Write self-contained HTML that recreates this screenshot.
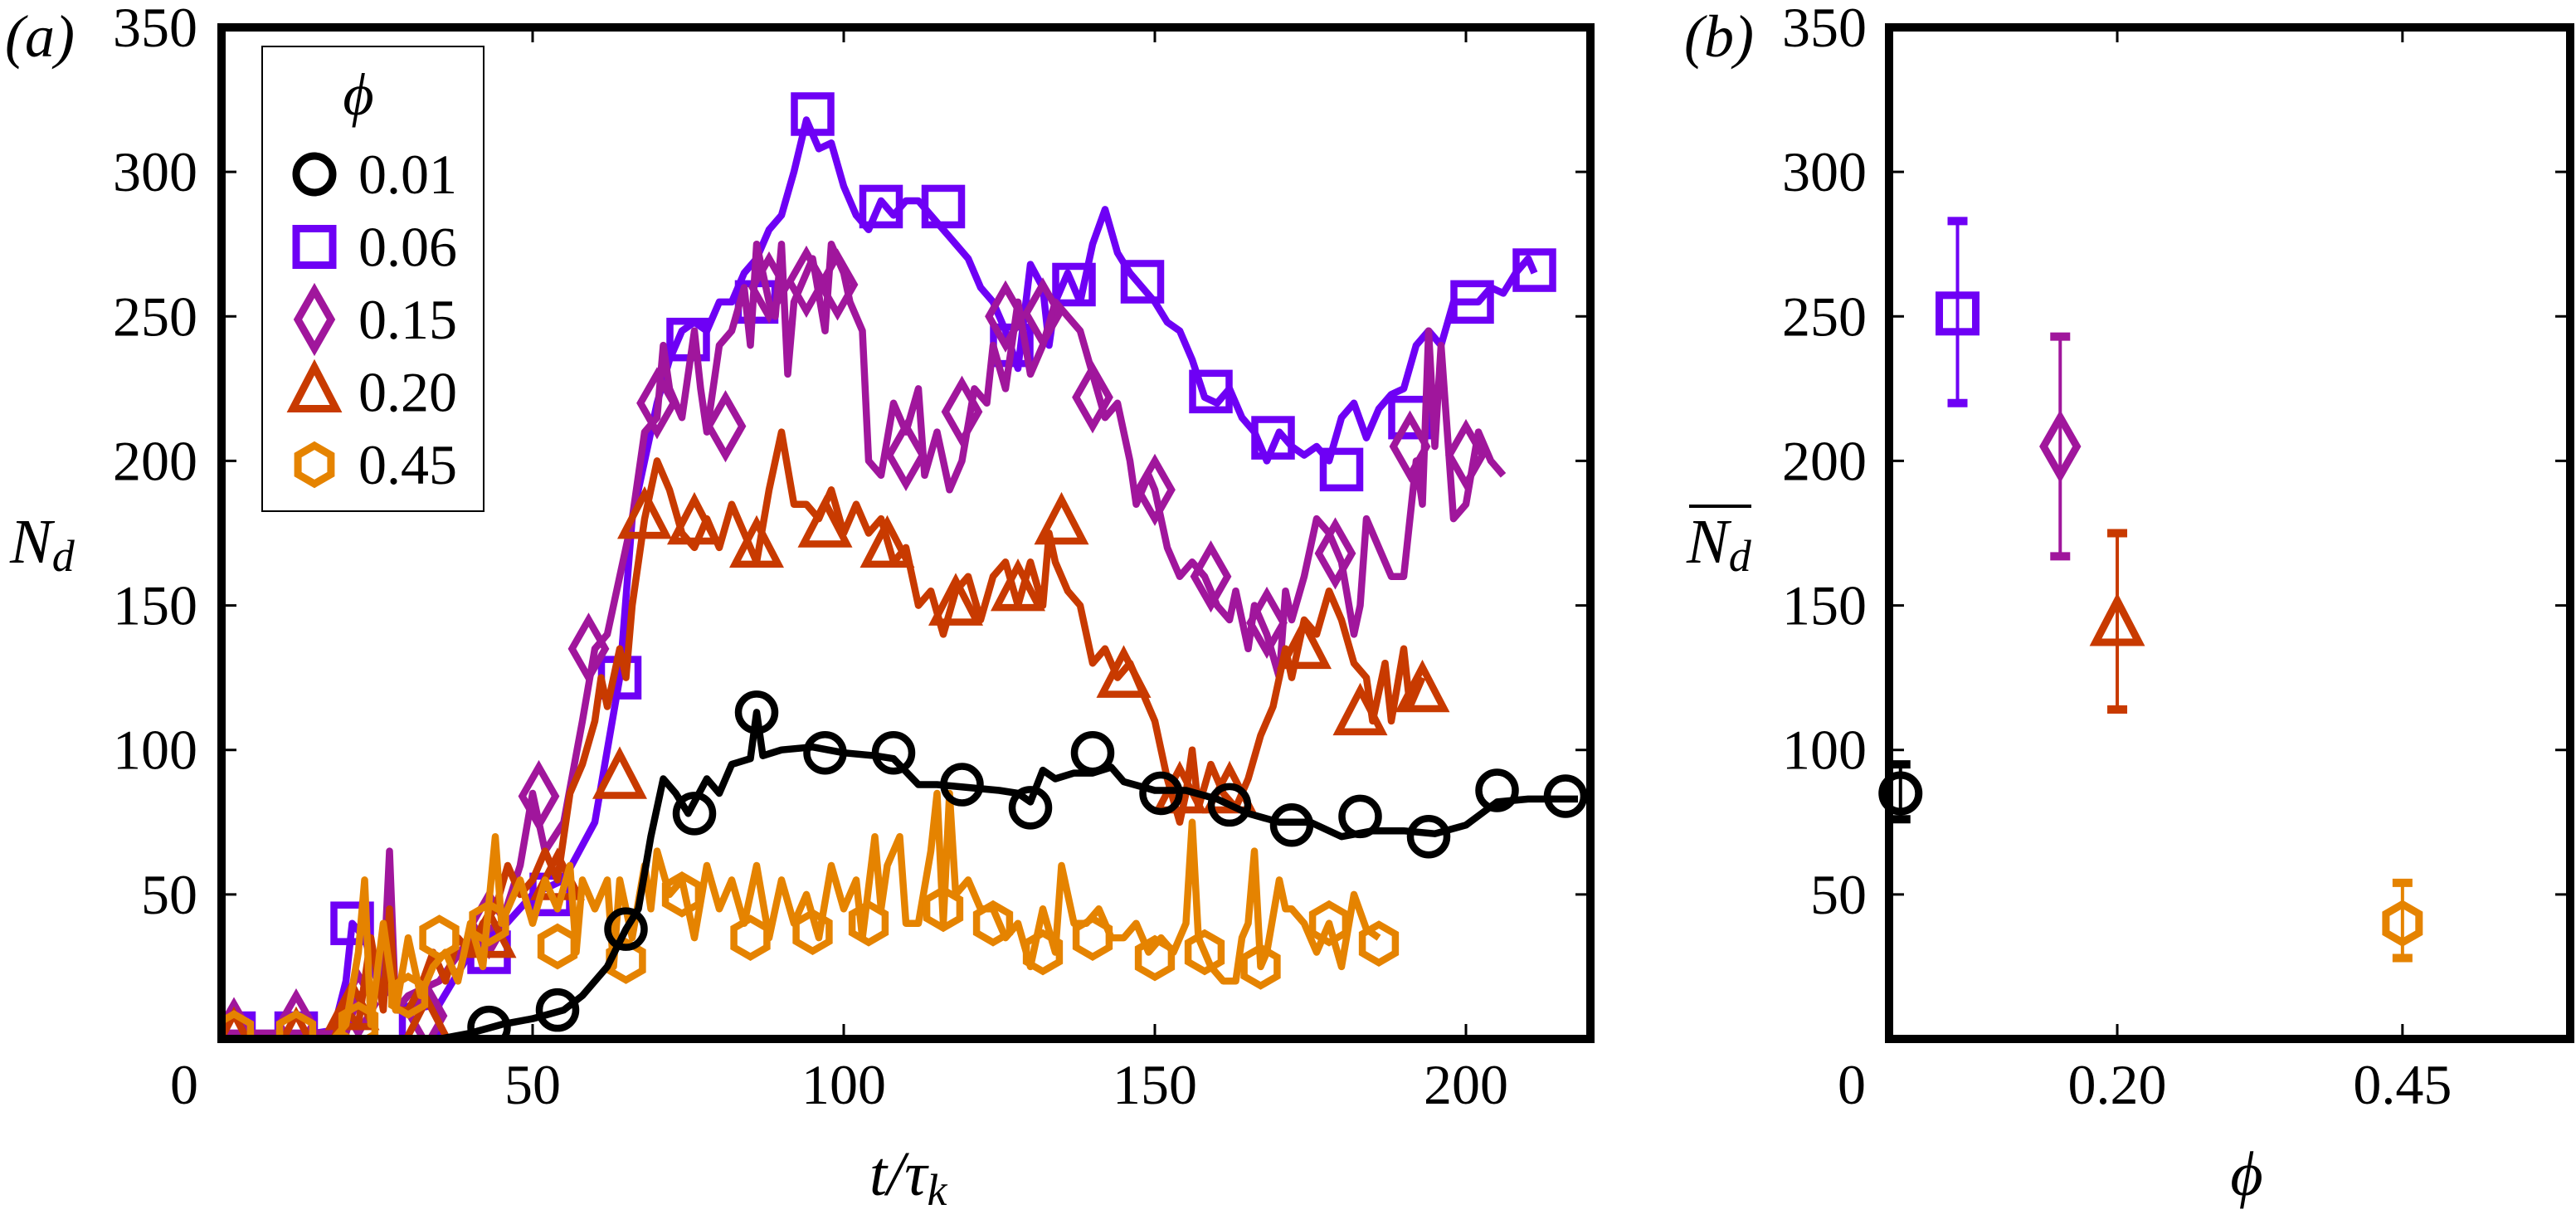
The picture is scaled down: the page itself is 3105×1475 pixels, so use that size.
<!DOCTYPE html>
<html><head><meta charset="utf-8">
<style>
html,body{margin:0;padding:0;background:#fff;}
svg{display:block;}
svg text{font-family:"Liberation Serif","DejaVu Serif","Noto Serif CJK SC",serif;fill:#000;}
</style></head>
<body>
<svg id="fig" width="3105" height="1475" viewBox="0 0 3105 1475" xmlns="http://www.w3.org/2000/svg">
<g id="panelA"></g>
<g id="panelB"></g>
</svg>
<script>
// ---------------- Panel (a) data ----------------
const seriesNames = ["0.01","0.06","0.15","0.20","0.45"];
const seriesColors = ["#000000","#6e00f5","#a0169c","#c83a00","#e58300"];
const seriesShapes = ["circle","square","diamond","triangle","hexagon"];

const t001 = [0,10,20,30,35,40,45,50,55,58,62,65,67,69,71,73,75,78,80,82,85,86,87,90,95,100,105,108,112,115,120,125,128,130,132,134,137,140,143,145,150,155,160,165,170,175,180,185,190,195,200,205,210,215,218];
const n001 = [0,0,0,0,0,2,5,7,10,15,25,38,45,70,90,85,78,90,85,95,97,113,98,100,101,99,98,97,88,88,87,86,85,82,93,90,92,92,94,89,86,86,83,78,75,75,70,72,72,71,74,82,83,83,83];
const mt001 = [43,54,65,76,86,97,108,119,130,140,151,162,172,183,194,205,216];
const mn001 = [4,10,38,78,113,99,99,88,80,99,85,81,74,77,70,86,84];

const t006 = [0,5,10,15,18,20,21,23,25,30,35,40,45,50,55,60,62,64,66,68,70,72,74,76,78,80,82,84,86,88,90,92,94,96,98,100,102,104,106,108,110,112,114,116,118,120,122,124,126,128,130,132,133,134,136,138,140,142,144,146,148,150,152,154,156,158,160,162,164,166,168,170,172,174,176,178,180,182,184,186,188,190,192,194,196,198,200,202,204,206,208,210,211];
const n006 = [2,2,2,2,3,20,40,35,20,10,12,30,38,50,55,75,100,125,180,200,220,235,245,248,245,255,255,265,270,280,285,300,318,308,310,295,285,280,290,285,290,290,285,280,275,270,260,255,245,232,268,260,240,255,265,255,275,287,272,265,260,255,248,245,235,222,220,225,215,210,200,210,205,202,205,200,215,220,208,218,223,225,240,245,240,255,255,255,260,258,265,270,265];
const mt006 = [2,12,21,32,43,53,64,75,86,95,106,116,127,137,148,159,169,180,191,201,211];
const mn006 = [2,2,40,5,30,50,125,242,255,320,288,288,240,261,262,224,208,197,215,255,266];

const t015 = [0,10,20,22,26,27,28,30,35,40,45,48,50,52,55,58,60,62,64,66,68,70,71,72,74,76,77,78,80,82,84,85,86,88,89,90,91,92,93,95,97,98,100,101,102,103,104,106,108,110,112,113,115,117,119,121,123,124,126,128,130,132,134,136,138,140,142,144,146,147,149,150,152,154,156,158,160,162,163,165,166,168,170,171,172,174,176,178,180,182,183,184,186,188,190,192,193,194,195,196,198,200,202,204,206];
const n015 = [2,2,2,15,20,65,10,15,20,35,40,60,85,65,75,110,135,140,160,180,210,215,240,225,215,245,225,210,240,245,260,240,275,255,250,275,230,255,260,270,245,275,265,255,250,245,200,195,220,210,225,195,210,190,200,225,220,240,225,255,230,240,255,250,245,230,215,220,200,185,195,190,170,160,165,160,150,145,155,135,150,140,125,155,145,160,180,175,165,140,150,180,170,160,160,200,185,245,205,240,180,185,210,200,195];
const mt015 = [2,12,22,33,43,51,59,70,81,88,94,99,110,119,126,132,140,150,159,168,179,191,200];
const mn015 = [2,5,12,8,40,84,135,220,212,260,262,261,202,217,250,251,222,190,160,144,168,205,202];

const t020 = [0,10,18,20,22,24,26,27,28,30,32,34,36,38,40,42,44,46,48,50,52,54,56,58,60,61,62,64,65,66,68,70,72,74,76,78,80,82,84,86,88,90,92,94,96,98,100,102,104,106,108,110,112,114,116,118,120,122,124,126,128,130,132,133,134,136,138,140,142,144,146,148,150,152,154,155,156,157,159,161,163,165,167,169,171,172,174,176,178,180,182,184,185,187,188,190,191,193];
const n020 = [0,0,0,10,5,35,10,45,10,10,18,30,20,35,30,40,45,60,50,55,65,55,85,95,110,125,115,135,125,150,180,200,190,175,170,180,170,185,175,165,190,210,185,185,180,190,175,185,175,180,165,170,150,155,140,155,160,145,160,165,150,165,150,175,165,155,150,130,135,125,130,120,110,90,75,85,100,80,95,85,80,90,105,115,135,125,145,140,155,145,130,125,110,130,110,135,115,125];
const mt020 = [2,12,21,33,43,54,64,68,76,86,97,107,118,128,135,145,154,162,174,183,193];
const mn020 = [0,0,10,5,35,55,90,180,178,170,177,170,150,155,178,125,85,85,135,112,120];

const t045 = [0,10,18,20,22,23,24,26,28,30,32,34,36,38,40,42,44,45,47,48,50,52,54,56,57,58,60,62,63,64,66,68,69,70,72,74,76,78,80,82,84,86,88,90,92,94,96,98,100,102,103,105,106,107,109,110,112,114,115,116,117,118,120,122,124,126,128,130,132,134,135,137,139,141,143,145,147,149,151,153,155,156,157,159,161,163,164,165,166,167,168,170,171,172,174,176,178,180,182,184,186];
const n045 = [0,0,0,5,30,55,5,40,10,35,15,25,30,20,40,25,70,40,50,55,40,55,45,60,30,55,45,55,25,55,35,60,45,65,50,55,35,60,45,55,40,60,35,55,40,50,35,60,45,55,35,70,45,60,70,40,40,65,85,40,85,50,55,45,45,35,40,25,45,30,60,40,40,45,35,35,40,30,35,30,40,75,35,25,20,20,35,40,65,25,30,55,45,45,40,30,40,25,50,38,35];
const mt045 = [2,12,22,30,35,43,54,65,74,85,95,104,116,124,132,140,150,158,167,178,186];
const mn045 = [2,2,5,15,35,40,32,27,50,35,37,40,45,40,30,35,28,30,25,40,33];

const xTicksA = [50,100,150,200];
const xTickLabelsA = ["0","50","100","150","200"];
const yTicks = [50,100,150,200,250,300];
const yTickLabels = ["50","100","150","200","250","300","350"];

// ---------------- Panel (b) data ----------------
const phiVals = [0.01,0.06,0.15,0.20,0.45];
const meanN = [85,251,205,143,40];
const errLo = [76,220,167,114,28];
const errHi = [95,283,243,175,54];
const xTicksB = [0.20,0.45];
const xTickLabelsB = ["0","0.20","0.45"];

// ---------------- Drawing ----------------
const NS = "http://www.w3.org/2000/svg";
function mk(tag, attrs, parent){
  const e = document.createElementNS(NS, tag);
  for (const k in attrs) e.setAttribute(k, attrs[k]);
  parent.appendChild(e);
  return e;
}
const Y0 = 1252, Y350 = 33;
function yS(v){ return Y0 - (v/350)*(Y0-Y350); }
const AX0 = 267, AX1 = 1917;
function xA(t){ return AX0 + t*(AX1-AX0)/220; }
const BX0 = 2277, BX1 = 3098;
function xB(p){ return BX0 + p*(BX1-BX0)/0.597; }

function marker(parent, shape, cx, cy, color, sw){
  let e;
  if (shape==="circle") e = mk("circle",{cx:cx,cy:cy,r:22,fill:"none",stroke:color,"stroke-width":sw},parent);
  else if (shape==="square") e = mk("rect",{x:cx-22,y:cy-22,width:44,height:44,fill:"none",stroke:color,"stroke-width":sw},parent);
  else if (shape==="diamond") e = mk("polygon",{points:`${cx},${cy-35} ${cx+20},${cy} ${cx},${cy+35} ${cx-20},${cy}`,fill:"none",stroke:color,"stroke-width":sw},parent);
  else if (shape==="triangle") e = mk("polygon",{points:`${cx},${cy-30} ${cx+26},${cy+20} ${cx-26},${cy+20}`,fill:"none",stroke:color,"stroke-width":sw},parent);
  else {
    let p=[]; for(let i=0;i<6;i++){const a=Math.PI/3*i-Math.PI/2; p.push((cx+23*Math.cos(a)).toFixed(1)+","+(cy+23*Math.sin(a)).toFixed(1));}
    e = mk("polygon",{points:p.join(" "),fill:"none",stroke:color,"stroke-width":sw},parent);
  }
  return e;
}

const A = document.getElementById("panelA");
const B = document.getElementById("panelB");

const allT = [t001,t006,t015,t020,t045];
const allN = [n001,n006,n015,n020,n045];
const allMT = [mt001,mt006,mt015,mt020,mt045];
const allMN = [mn001,mn006,mn015,mn020,mn045];
const clipA = mk("clipPath",{id:"clipA"},A);
mk("rect",{x:AX0,y:Y350,width:AX1-AX0,height:Y0-Y350},clipA);
const plotA = mk("g",{"clip-path":"url(#clipA)"},A);


[1,2,3,4,0].forEach(i=>{
  const g = mk("g",{},plotA);
  
  
  const pts = allT[i].map((t,j)=>xA(t).toFixed(1)+","+yS(allN[i][j]).toFixed(1)).join(" ");
  const pl = mk("polyline",{points:pts,fill:"none",stroke:seriesColors[i],"stroke-width":8.5,"stroke-linejoin":"round"},g);
  
  
  allMT[i].forEach((t,j)=>{
    const m = marker(g, seriesShapes[i], xA(t), yS(allMN[i][j]), seriesColors[i], 8.5);
    
    
  });
});

const frameA = mk("rect",{x:AX0,y:Y350,width:AX1-AX0,height:Y0-Y350,fill:"none",stroke:"#000","stroke-width":10},A);


xTicksA.forEach(v=>{
  const x=xA(v);
  const t1 = mk("line",{x1:x,y1:Y0,x2:x,y2:Y0-18,stroke:"#000","stroke-width":3},A);
  
  
  const t2 = mk("line",{x1:x,y1:Y350,x2:x,y2:Y350+18,stroke:"#000","stroke-width":3},A);
  
  
});
xTickLabelsA.forEach((s,i)=>{
  const v = i*50;
  const x = i===0 ? 222 : xA(v);
  const tx = mk("text",{x:x,y:1330,"font-size":68,"text-anchor":"middle"},A);
  tx.textContent = s;
  
  
});
function yAxisTicks(P, x0, x1, lbl){
  yTicks.forEach(v=>{
    const y=yS(v);
    const a = mk("line",{x1:x0,y1:y,x2:x0+18,y2:y,stroke:"#000","stroke-width":3},P);
    
    
    const b = mk("line",{x1:x1,y1:y,x2:x1-18,y2:y,stroke:"#000","stroke-width":3},P);
    
    
  });
  yTickLabels.forEach((s,i)=>{
    const v=(i+1)*50;
    const tx = mk("text",{x:lbl,y:yS(v)+23,"font-size":68,"text-anchor":"end"},P);
    tx.textContent = s;
    
    
  });
}
yAxisTicks(A, AX0, AX1, 238);

const la = mk("text",{x:6,y:68,"font-size":72,"font-style":"italic"},A);
la.textContent="(a)";


const ylA = mk("text",{x:12,y:678,"font-size":76,"font-style":"italic"},A);


ylA.innerHTML = 'N<tspan font-size="54" dy="10">d</tspan>';
const xlA = mk("text",{x:1048,y:1440,"font-size":76,"font-style":"italic"},A);


xlA.innerHTML = 't/τ<tspan font-size="54" dy="12">k</tspan>';

const leg = mk("g",{},A);


const lb = mk("rect",{x:316,y:56,width:267,height:560,fill:"#fff",stroke:"#000","stroke-width":2},leg);


const lt = mk("text",{x:432,y:138,"font-size":72,"font-style":"italic","text-anchor":"middle"},leg);
lt.textContent="ϕ";


seriesNames.forEach((s,i)=>{
  const y = 210 + i*87.5;
  const e = mk("g",{},leg);
  
  
  marker(e, seriesShapes[i], 379, y, seriesColors[i], 9);
  const tx = mk("text",{x:432,y:y+23,"font-size":68},e);
  tx.textContent = s;
});

// ---------------- Panel b ----------------
const frameB = mk("rect",{x:BX0,y:Y350,width:BX1-BX0,height:Y0-Y350,fill:"none",stroke:"#000","stroke-width":10},B);


xTicksB.forEach(v=>{
  const x=xB(v);
  const t1 = mk("line",{x1:x,y1:Y0,x2:x,y2:Y0-18,stroke:"#000","stroke-width":3},B);
  
  
  const t2 = mk("line",{x1:x,y1:Y350,x2:x,y2:Y350+18,stroke:"#000","stroke-width":3},B);
  
  
});
xTickLabelsB.forEach((s,i)=>{
  const x = i===0 ? 2232 : xB(xTicksB[i-1]);
  const tx = mk("text",{x:x,y:1330,"font-size":68,"text-anchor":"middle"},B);
  tx.textContent = s;
  
  
});
yAxisTicks(B, BX0, BX1, 2250);
phiVals.forEach((p,i)=>{
  const g = mk("g",{},B);
  
  
  const x=xB(p), c=seriesColors[i];
  mk("line",{x1:x,y1:yS(errLo[i]),x2:x,y2:yS(errHi[i]),stroke:c,"stroke-width":4},g);
  mk("line",{x1:x-12,y1:yS(errLo[i]),x2:x+12,y2:yS(errLo[i]),stroke:c,"stroke-width":10},g);
  mk("line",{x1:x-12,y1:yS(errHi[i]),x2:x+12,y2:yS(errHi[i]),stroke:c,"stroke-width":10},g);
  marker(g, seriesShapes[i], x, yS(meanN[i]), c, 9);
});
const lbB = mk("text",{x:2030,y:68,"font-size":72,"font-style":"italic"},B);
lbB.textContent="(b)";


const ylB = mk("text",{x:2033,y:678,"font-size":76,"font-style":"italic"},B);


ylB.innerHTML = 'N<tspan font-size="54" dy="10">d</tspan>';
const ov = mk("line",{x1:2036,y1:610,x2:2111,y2:610,stroke:"#000","stroke-width":4},B);


const xlB = mk("text",{x:2708,y:1440,"font-size":76,"font-style":"italic","text-anchor":"middle"},B);
xlB.textContent="ϕ";


</script>
</body></html>
